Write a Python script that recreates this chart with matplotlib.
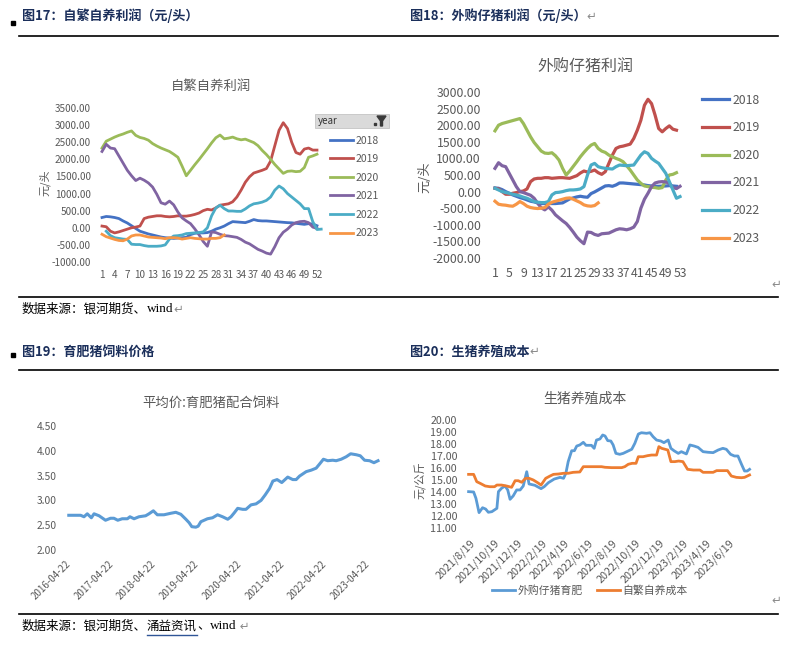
import numpy as np
import pandas as pd
import matplotlib
matplotlib.use('Agg')
import matplotlib.pyplot as plt
import matplotlib.dates as mdates
from matplotlib.lines import Line2D
from matplotlib.patches import Rectangle, Polygon

plt.rcParams['font.family'] = ['Noto Sans CJK SC', 'DejaVu Sans']

nan = np.nan
years = ['2018', '2019', '2020', '2021', '2022', '2023']
year_colors = ['#4472C4', '#C0504D', '#9BBB59', '#8064A2', '#4BACC6', '#F79646']

# 图17 自繁自养利润, weekly (元/头)
zf_2018 = [300, 330, 320, 300, 270, 200, 140, 60, -20, -100, -140, -180, -210, -240, -270, -290, -300, -310,
           -300, -290, -280, -200, -160, -150, -150, -140, -100, -40, 0, 50, 120, 180, 170, 160, 150, 190,
           240, 210, 200, 200, 190, 180, 170, 160, 150, 145, 130, 115, 100, 120, 110, 60]
zf_2019 = [50, 30, -100, -150, -120, -80, -40, 0, 20, 50, 270, 310, 330, 350, 350, 330, 320, 330,
           350, 340, 340, 360, 390, 430, 500, 540, 520, 580, 660, 680, 700, 760, 900, 1100, 1330, 1490,
           1600, 1640, 1680, 1730, 1950, 2400, 2850, 3070, 2900, 2500, 2200, 2150, 2300, 2330, 2270, 2270]
zf_2020 = [2330, 2530, 2590, 2650, 2700, 2740, 2790, 2830, 2700, 2640, 2610, 2560, 2460, 2390, 2330, 2280,
           2230, 2150, 2060, 1800, 1520, 1680, 1840, 1990, 2150, 2310, 2480, 2630, 2710, 2600, 2620, 2650,
           2600, 2570, 2590, 2540, 2490, 2400, 2260, 2140, 2000, 1850, 1720, 1590, 1650, 1660, 1640, 1650,
           1760, 2060, 2100, 2150]
zf_2021 = [2230, 2440, 2330, 2310, 2100, 1890, 1680, 1520, 1380, 1450, 1390, 1310, 1190, 980, 730, 690,
           780, 670, 460, 290, 200, 120, -30, -200, -400, -540, -120, -140, -190, -230, -240, -260, -280,
           -340, -420, -470, -550, -630, -680, -740, -770, -550, -290, -130, -40, 80, 150, 180, 190, 150,
           20, -20]
zf_2022 = [nan, -100, -230, -290, -310, -330, -340, -480, -490, -490, -520, -540, -540, -540, -530, -500,
           -330, -240, -230, -210, -170, -160, -150, -140, -120, 0, 350, 580, 660, 560, 490, 490, 480, 480,
           550, 640, 700, 720, 750, 800, 900, 1100, 1220, 1140, 1000, 900, 800, 700, 560, 560, 180, -50, -40]
zf_2023 = [-190, -260, -300, -340, -370, -380, -330, -240, -210, -210, -240, -270, -280, -290, -300, -320,
           -290, -290, -300, -330, -310, -290, -310, -320, -330, -330, -310, -310, -290, -210]

# 图18 外购仔猪利润, weekly (元/头)
wg_2018 = [110, 100, 60, 0, -50, -100, -140, -180, -210, -250, -290, -310, -340, -360, -360, -360, -360,
           -360, -350, -340, -280, -220, -190, -160, -140, -160, -170, -60, -10, 50, 110, 170, 180, 160,
           200, 260, 260, 250, 240, 230, 220, 210, 200, 180, 170, 160, 160, 165, 170, 180, 170, 160]
wg_2019 = [100, 80, 0, -80, -80, -50, -30, 0, 20, 80, 300, 380, 400, 400, 420, 420, 400, 410, 420, 420,
           410, 400, 440, 480, 560, 620, 590, 610, 650, 570, 520, 600, 850, 1100, 1300, 1350, 1370, 1400,
           1430, 1600, 1850, 2150, 2600, 2780, 2650, 2300, 1900, 1800, 1900, 1980, 1880, 1850]
wg_2020 = [1830, 2000, 2050, 2080, 2110, 2140, 2170, 2200, 2050, 1850, 1650, 1480, 1350, 1220, 1160, 1150,
           1170, 1080, 950, 700, 500, 620, 760, 900, 1050, 1180, 1300, 1400, 1450, 1300, 1220, 1180, 1100,
           1050, 1000, 960, 900, 780, 650, 500, 350, 250, 170, 150, 130, 120, 100, 120, 350, 500, 520, 570]
wg_2021 = [700, 870, 780, 750, 550, 350, 150, 0, -30, -70, -110, -200, -350, -490, -550, -460, -560, -700,
           -790, -880, -960, -1080, -1220, -1370, -1480, -1570, -1220, -1230, -1290, -1320, -1270, -1260,
           -1250, -1200, -1150, -1120, -1130, -1150, -1120, -1070, -900, -500, -230, -50, 150, 260, 290,
           300, 290, 250, 120, 90, 160]
wg_2022 = [100, 50, 0, -30, -50, -80, -100, -130, -170, -200, -250, -300, -320, -330, -330, -300, -100,
           -30, -20, 0, 30, 50, 50, 60, 80, 150, 500, 800, 850, 750, 720, 700, 690, 680, 750, 800, 790, 780,
           790, 800, 950, 1100, 1200, 1150, 1000, 920, 850, 700, 550, 300, 50, -200, -150]
wg_2023 = [-290, -380, -400, -410, -430, -440, -380, -300, -360, -440, -480, -500, -510, -500, -480, -380,
           -320, -290, -260, -230, -200, -190, -230, -280, -330, -400, -430, -440, -420, -340]

# 图19 平均价:育肥猪配合饲料
feed_dates = ['2016-05-20', '2016-08-29', '2016-09-27', '2016-10-25', '2016-11-29', '2016-12-22',
              '2017-02-03', '2017-03-30', '2017-05-12', '2017-06-10', '2017-07-13', '2017-08-20',
              '2017-10-03', '2017-10-25', '2017-11-29', '2018-01-10', '2018-03-08', '2018-04-06',
              '2018-05-13', '2018-06-16', '2018-08-12', '2018-10-08', '2018-11-21', '2019-01-03',
              '2019-02-15', '2019-03-15', '2019-04-07', '2019-05-11', '2019-05-31', '2019-06-23',
              '2019-08-19', '2019-10-01', '2019-11-13', '2019-12-26', '2020-02-08', '2020-03-07',
              '2020-04-04', '2020-05-03', '2020-06-15', '2020-07-13', '2020-08-25', '2020-10-07',
              '2020-11-19', '2020-12-24', '2021-01-30', '2021-02-28', '2021-04-05', '2021-05-15',
              '2021-07-05', '2021-08-17', '2021-09-15', '2021-10-14', '2021-12-10', '2022-01-22',
              '2022-03-05', '2022-04-02', '2022-05-06', '2022-06-12', '2022-07-25', '2022-08-23',
              '2022-10-05', '2022-11-17', '2022-12-25', '2023-02-12', '2023-03-17', '2023-04-23',
              '2023-06-05', '2023-07-12', '2023-08-16']
feed_price = [2.70, 2.70, 2.67, 2.73, 2.65, 2.73, 2.69, 2.60, 2.64, 2.64, 2.60, 2.63, 2.63, 2.67, 2.63,
              2.67, 2.69, 2.73, 2.79, 2.71, 2.71, 2.74, 2.76, 2.72, 2.62, 2.55, 2.47, 2.46, 2.48, 2.57,
              2.63, 2.65, 2.71, 2.67, 2.62, 2.67, 2.75, 2.84, 2.82, 2.82, 2.91, 2.93, 3.00, 3.11, 3.24,
              3.39, 3.42, 3.36, 3.47, 3.42, 3.42, 3.49, 3.58, 3.61, 3.65, 3.73, 3.83, 3.80, 3.81, 3.80,
              3.83, 3.88, 3.94, 3.92, 3.90, 3.81, 3.80, 3.76, 3.80]

# 图20 生猪养殖成本 (元/公斤)
buy_dates = ['2021-08-15', '2021-08-28', '2021-09-03', '2021-09-11', '2021-09-20', '2021-09-28',
             '2021-10-05', '2021-10-14', '2021-10-27', '2021-10-31', '2021-11-08', '2021-11-17',
             '2021-11-24', '2021-11-30', '2021-12-08', '2021-12-17', '2021-12-26', '2022-01-03',
             '2022-01-12', '2022-01-18', '2022-02-02', '2022-02-18', '2022-02-26', '2022-03-09',
             '2022-03-24', '2022-04-08', '2022-04-17', '2022-04-23', '2022-04-29', '2022-05-08',
             '2022-05-15', '2022-05-21', '2022-05-29', '2022-06-07', '2022-06-14', '2022-06-28',
             '2022-07-05', '2022-07-11', '2022-07-20', '2022-07-27', '2022-08-02', '2022-08-09',
             '2022-08-17', '2022-08-23', '2022-08-30', '2022-09-09', '2022-09-18', '2022-09-27',
             '2022-10-10', '2022-10-18', '2022-10-27', '2022-11-04', '2022-11-17', '2022-11-26',
             '2022-12-04', '2022-12-13', '2022-12-24', '2023-01-01', '2023-01-12', '2023-01-19',
             '2023-01-27', '2023-02-07', '2023-02-15', '2023-02-28', '2023-03-09', '2023-03-20',
             '2023-03-30', '2023-04-12', '2023-04-25', '2023-05-08', '2023-05-21', '2023-06-02',
             '2023-06-11', '2023-06-22', '2023-07-02', '2023-07-11', '2023-07-21', '2023-07-28',
             '2023-08-04', '2023-08-10']
buy_cost = [14.03, 14.00, 13.47, 12.28, 12.69, 12.58, 12.31, 12.36, 12.64, 14.03, 14.31, 14.50, 14.17,
            13.39, 13.67, 14.17, 14.17, 14.50, 15.69, 14.67, 14.56, 14.28, 14.44, 14.78, 15.08, 15.22,
            15.14, 15.56, 16.53, 17.44, 17.44, 17.83, 17.92, 18.14, 17.89, 17.89, 17.64, 18.33, 18.42,
            18.75, 18.67, 18.28, 18.25, 17.92, 17.22, 17.14, 17.22, 17.36, 17.56, 18.06, 18.83, 18.94,
            18.89, 18.94, 18.61, 18.33, 18.25, 18.11, 18.33, 17.64, 17.44, 17.22, 17.36, 17.17, 17.92,
            17.83, 17.72, 17.36, 17.31, 17.28, 17.50, 17.64, 17.56, 17.14, 17.00, 17.00, 16.25, 15.75,
            15.75, 15.89]
self_dates = ['2021-08-15', '2021-08-28', '2021-09-05', '2021-09-14', '2021-09-27', '2021-10-09',
              '2021-10-21', '2021-10-27', '2021-11-08', '2021-11-21', '2021-12-04', '2021-12-13',
              '2021-12-21', '2021-12-30', '2022-01-09', '2022-01-18', '2022-01-29', '2022-02-09',
              '2022-02-18', '2022-03-02', '2022-03-13', '2022-03-22', '2022-04-04', '2022-04-17',
              '2022-04-29', '2022-05-12', '2022-05-29', '2022-06-07', '2022-06-20', '2022-07-07',
              '2022-07-24', '2022-08-02', '2022-08-19', '2022-09-14', '2022-09-22', '2022-10-01',
              '2022-10-11', '2022-10-21', '2022-10-27', '2022-11-08', '2022-11-20', '2022-11-30',
              '2022-12-13', '2022-12-19', '2022-12-26', '2023-01-11', '2023-01-19', '2023-01-29',
              '2023-02-08', '2023-02-19', '2023-03-03', '2023-03-18', '2023-04-04', '2023-04-12',
              '2023-04-25', '2023-05-08', '2023-05-17', '2023-05-30', '2023-06-14', '2023-06-24',
              '2023-07-07', '2023-07-20', '2023-07-28', '2023-08-10']
self_cost = [15.47, 15.47, 14.86, 14.72, 14.50, 14.44, 14.44, 14.58, 14.58, 14.50, 14.39, 14.94, 14.94,
             14.81, 15.14, 15.14, 15.00, 14.78, 14.58, 15.14, 15.33, 15.47, 15.50, 15.56, 15.56, 15.64,
             15.67, 16.11, 16.11, 16.11, 16.11, 16.06, 16.03, 16.03, 16.11, 16.31, 16.39, 16.39, 16.94,
             16.94, 17.03, 17.08, 17.08, 17.78, 17.64, 17.50, 16.53, 16.53, 16.58, 16.53, 15.89, 15.83,
             15.83, 15.64, 15.64, 15.64, 15.78, 15.78, 15.78, 15.33, 15.22, 15.19, 15.22, 15.42]

##########

W, H = 789, 646
GREY = '#595959'
NAVY = '#1B2F5B'

fig = plt.figure(figsize=(W / 100, H / 100), dpi=100)
renderer = fig.canvas.get_renderer()


def box(x0, y0, x1, y1):
    return [x0 / W, 1 - y1 / H, (x1 - x0) / W, (y1 - y0) / H]


def fx(x):
    return x / W


def fy(y):
    return 1 - y / H


def style(ax, fs, ypad, xpad):
    for s in ax.spines.values():
        s.set_visible(False)
    ax.patch.set_visible(False)
    ax.tick_params(length=0, labelsize=fs, labelcolor=GREY)
    ax.tick_params(axis='y', pad=ypad)
    ax.tick_params(axis='x', pad=xpad)


def seq(x, y, parts):
    # texts placed one after the other on the same line
    out = []
    for s, kw in parts:
        t = fig.text(fx(x), fy(y), s, va='center', **kw)
        x = t.get_window_extent(renderer).x1
        out.append(t)
    return out


def hline(x0, x1, y, **kw):
    fig.add_artist(Line2D([fx(x0), fx(x1)], [fy(y), fy(y)], **kw))


head = dict(fontsize=9.4, fontweight='bold', color=NAVY)
mark = dict(fontsize=8.5, color='#8C8C8C', family=['DejaVu Sans'])
src = dict(fontsize=9, color='black')
serif = dict(fontsize=9.5, color='black', family=['Liberation Serif'])

# headers / rules / sources
for yy in (20.5, 353):
    fig.add_artist(Rectangle((fx(11), fy(yy + 4)), 4 / W, 4 / H, color='black'))
seq(22, 16, [('图17：自繁自养利润（元/头）', head)])
seq(410, 16, [('图18：外购仔猪利润（元/头）', head), ('↵', mark)])
seq(22, 351.7, [('图19：育肥猪饲料价格', head)])
seq(410, 351.7, [('图20：生猪养殖成本', head), ('↵', mark)])
for yy in (36, 297, 370, 614):
    hline(19, 778, yy, color='black', lw=1.2)
seq(22, 309, [('数据来源：银河期货、', src), ('wind', serif), ('↵', mark)])
s2 = seq(22, 626, [('数据来源：银河期货、', src), ('涌益资讯', src), ('、', src), ('wind', serif),
                   (' ↵', mark)])
bb = s2[1].get_window_extent(renderer)
hline(bb.x0, bb.x1, 635, color='#2F5597', lw=1)
fig.text(fx(776), fy(284), '↵', ha='center', va='center', **mark)
fig.text(fx(776), fy(600), '↵', ha='center', va='center', **mark)

# ---- chart 1
ax1 = fig.add_axes(box(99.9, 108, 323.3, 262))
for yr, col, vals in zip(years, year_colors, [zf_2018, zf_2019, zf_2020, zf_2021, zf_2022, zf_2023]):
    ax1.plot(np.arange(1, len(vals) + 1), vals, color=col, lw=2, label=yr)
ax1.set_xlim(0.5, 53.5)
ax1.set_ylim(-1000, 3500)
yt = np.arange(-1000, 3501, 500)
ax1.set_yticks(yt, [f'{v:.2f}' for v in yt])
ax1.set_xticks(range(1, 53, 3))
style(ax1, 7.2, 6.5, 6)
fig.text(fx(211), fy(86), '自繁自养利润', ha='center', va='center', fontsize=9.6, color=GREY)
fig.text(fx(45), fy(183), '元/头', ha='center', va='center', rotation=90, fontsize=8, color=GREY)
h, l = ax1.get_legend_handles_labels()
fig.legend(h, l, loc='upper left', bbox_to_anchor=(fx(330), fy(135.5)), frameon=False, fontsize=7.5,
           labelcolor=GREY, handlelength=2.2, handletextpad=0.3, labelspacing=0.82, borderpad=0,
           borderaxespad=0)
# pivot field button
fig.add_artist(Rectangle((fx(315), fy(128)), 74 / W, 14 / H, facecolor='#DADADA', edgecolor='#C4C4C4',
                         lw=0.6))
fig.text(fx(318), fy(121), 'year', va='center', fontsize=7, color='#333333')
fig.add_artist(Polygon([(fx(377), fy(116)), (fx(386), fy(116)), (fx(382.5), fy(121)), (fx(382.5), fy(126)),
                        (fx(380.5), fy(126)), (fx(380.5), fy(121))], closed=True, color='#3A3A3A'))
fig.add_artist(Rectangle((fx(373.5), fy(124.5)), 2 / W, 1.5 / H, color='#3A3A3A'))

# ---- chart 2
ax2 = fig.add_axes(box(493.2, 92, 681.8, 258))
for yr, col, vals in zip(years, year_colors, [wg_2018, wg_2019, wg_2020, wg_2021, wg_2022, wg_2023]):
    ax2.plot(np.arange(1, len(vals) + 1), vals, color=col, lw=2.3, label=yr)
ax2.set_xlim(0.5, 53.5)
ax2.set_ylim(-2000, 3000)
yt = np.arange(-2000, 3001, 500)
ax2.set_yticks(yt, [f'{v:.2f}' for v in yt])
ax2.set_xticks(range(1, 54, 4))
style(ax2, 8.8, 8.8, 6.5)
fig.text(fx(585), fy(67), '外购仔猪利润', ha='center', va='center', fontsize=11.5, color=GREY)
fig.text(fx(425), fy(177), '元/头', ha='center', va='center', rotation=90, fontsize=9.5, color=GREY)
h, l = ax2.get_legend_handles_labels()
fig.legend(h, l, loc='upper left', bbox_to_anchor=(fx(702), fy(93.5)), frameon=False, fontsize=8.8,
           labelcolor=GREY, handlelength=2.2, handletextpad=0.3, labelspacing=1.2, borderpad=0,
           borderaxespad=0)

# ---- chart 3
ax3 = fig.add_axes(box(62, 426, 382, 550))
ax3.plot(mdates.date2num(pd.to_datetime(feed_dates)), feed_price, color='#5B9BD5', lw=2.2)
ax3.set_xlim(mdates.date2num(pd.Timestamp('2016-03-23')), mdates.date2num(pd.Timestamp('2023-09-19')))
ax3.set_ylim(2, 4.5)
yt = np.arange(2, 4.51, 0.5)
ax3.set_yticks(yt, [f'{v:.2f}' for v in yt])
xt = [pd.Timestamp(f'{y}-04-22') for y in range(2016, 2024)]
ax3.set_xticks(mdates.date2num(xt), [t.strftime('%Y-%m-%d') for t in xt], rotation=45, ha='right',
               rotation_mode='anchor')
style(ax3, 7.4, 3.6, 6.5)
ax3.tick_params(axis='x', labelsize=7)
fig.text(fx(211), fy(403), '平均价:育肥猪配合饲料', ha='center', va='center', fontsize=9.6, color=GREY)

# ---- chart 4
ax4 = fig.add_axes(box(462, 420, 755, 528))
ax4.plot(mdates.date2num(pd.to_datetime(buy_dates)), buy_cost, color='#5B9BD5', lw=2, label='外购仔猪育肥')
ax4.plot(mdates.date2num(pd.to_datetime(self_dates)), self_cost, color='#ED7D31', lw=2, label='自繁自养成本')
ax4.set_xlim(mdates.date2num(pd.Timestamp('2021-07-29')), mdates.date2num(pd.Timestamp('2023-08-24')))
ax4.set_ylim(11, 20)
yt = np.arange(11, 20.1, 1)
ax4.set_yticks(yt, [f'{v:.2f}' for v in yt])
xt = pd.date_range('2021-08-19', periods=12, freq=pd.DateOffset(months=2))
ax4.set_xticks(mdates.date2num(xt), [f'{t.year}/{t.month}/{t.day}' for t in xt], rotation=45, ha='right',
               rotation_mode='anchor')
style(ax4, 7.7, 3.6, 7)
ax4.tick_params(axis='x', labelsize=7.8)
fig.text(fx(585), fy(399), '生猪养殖成本', ha='center', va='center', fontsize=10, color=GREY)
fig.text(fx(420), fy(480), '元/公斤', ha='center', va='center', rotation=90, fontsize=8, color=GREY)
h, l = ax4.get_legend_handles_labels()
fig.legend(h, l, loc='center left', bbox_to_anchor=(fx(492), fy(590.5)), frameon=False, fontsize=7.8,
           labelcolor=GREY, ncol=2, handlelength=2.15, handletextpad=0.2, columnspacing=1.3, borderpad=0,
           borderaxespad=0)

fig.savefig('out.png', dpi=100)
